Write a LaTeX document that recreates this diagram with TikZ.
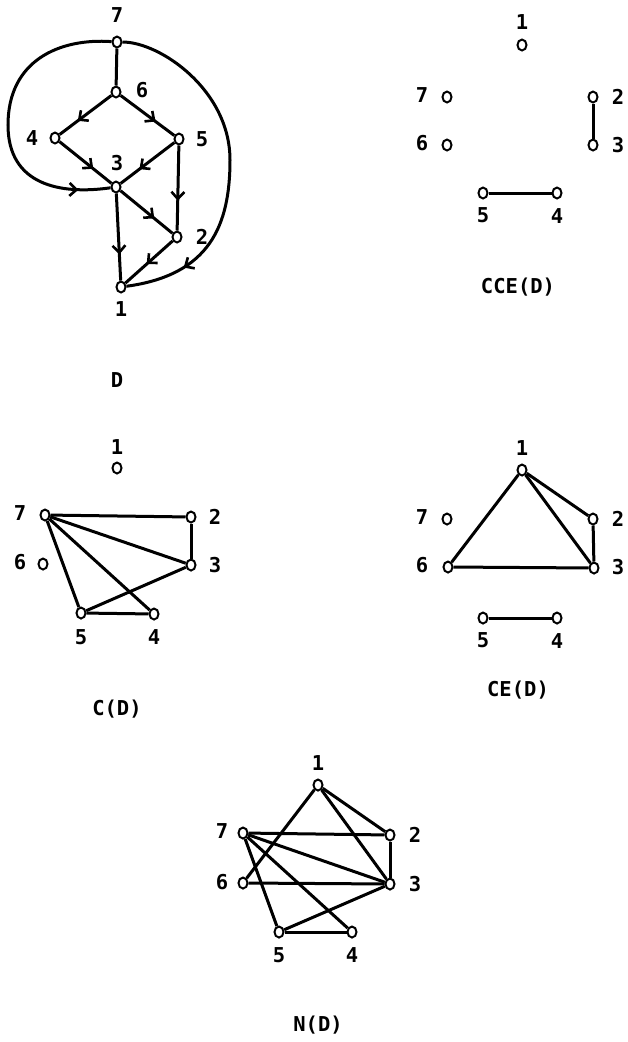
\documentclass[tikz,border=0pt]{standalone}
\usepackage{fontspec}
\newfontfamily\tw{DejaVu Sans Mono}
\usetikzlibrary{arrows.meta,decorations.markings,shapes.geometric}
\tikzset{
  vtx/.style={ellipse, draw, line width=2pt, fill=white, minimum width=9pt, minimum height=11pt, inner sep=0pt},
  lbl/.style={font=\tw\bfseries\fontsize{20.5}{20.5}\selectfont, inner sep=0pt},
  edge/.style={line width=3pt},
  arr/.style={edge, postaction={decorate}, decoration={markings, mark=at position #1 with {\arrow{Straight Barb[length=7pt,width=13pt,line width=2.6pt]}}}},
  arr/.default=0.65
}
\begin{document}
\begin{tikzpicture}[x=1pt,y=-1pt]
\useasboundingbox (0,0) rectangle (627,1042);
% ---------- D ----------
\node[vtx] (D7) at (117,42) {};
\node[vtx] (D6) at (116,92) {};
\node[vtx] (D4) at (55,138) {};
\node[vtx] (D5) at (179,139) {};
\node[vtx] (D3) at (116,187) {};
\node[vtx] (D2) at (177,237) {};
\node[vtx] (D1) at (121,287) {};
\node[lbl] (LD7) at (117,15) {7};
\node[lbl] (LD6) at (142,90) {6};
\node[lbl] (LD4) at (32,138) {4};
\node[lbl] (LD5) at (202,139) {5};
\node[lbl] (LD3) at (117,163) {3};
\node[lbl] (LD2) at (202,237) {2};
\node[lbl] (LD1) at (121,309) {1};
\node[lbl] (TD) at (117,380) {D};
\coordinate (Dl) at (8,125);
\coordinate (Dr) at (230,160);
\draw[edge] (D7) -- (D6);
\draw[arr] (D6) -- (D4);
\draw[arr] (D6) -- (D5);
\draw[arr] (D4) -- (D3);
\draw[arr] (D5) -- (D3);
\draw[arr] (D3) -- (D2);
\draw[arr] (D5) -- (D2);
\draw[arr=0.7] (D3) -- (D1);
\draw[arr=0.55] (D2) -- (D1);
\draw[arr=0.89] (D7) .. controls (60,38) and (8,60) .. (Dl) .. controls (8,185) and (60,195) .. (D3);
\draw[arr=0.83] (D7) .. controls (160,42) and (230,90) .. (Dr) .. controls (230,225) and (210,275) .. (D1);
% ---------- CCE(D) ----------
\node[vtx] (A1) at (522,45) {};
\node[vtx] (A7) at (447,97) {};
\node[vtx] (A6) at (447,145) {};
\node[vtx] (A2) at (593,97) {};
\node[vtx] (A3) at (593,145) {};
\node[vtx] (A5) at (483,193) {};
\node[vtx] (A4) at (557,193) {};
\node[lbl] (LA1) at (522,22) {1};
\node[lbl] (LA7) at (422,95) {7};
\node[lbl] (LA6) at (422,143) {6};
\node[lbl] (LA2) at (618,97) {2};
\node[lbl] (LA3) at (618,145) {3};
\node[lbl] (LA5) at (483,215) {5};
\node[lbl] (LA4) at (557,216) {4};
\node[lbl] (TA) at (518,287) {CCE(D)};
\draw[edge] (A2) -- (A3);
\draw[edge] (A5) -- (A4);
% ---------- C(D) ----------
\node[vtx] (B1) at (117,468) {};
\node[vtx] (B7) at (45,515) {};
\node[vtx] (B2) at (191,517) {};
\node[vtx] (B6) at (43,564) {};
\node[vtx] (B3) at (191,565) {};
\node[vtx] (B5) at (81,613) {};
\node[vtx] (B4) at (154,614) {};
\node[lbl] (LB1) at (117,447) {1};
\node[lbl] (LB7) at (20,513) {7};
\node[lbl] (LB2) at (215,517) {2};
\node[lbl] (LB6) at (20,562) {6};
\node[lbl] (LB3) at (215,565) {3};
\node[lbl] (LB5) at (81,637) {5};
\node[lbl] (LB4) at (154,637) {4};
\node[lbl] (TB) at (117,709) {C(D)};
\draw[edge] (B7) -- (B2);
\draw[edge] (B7) -- (B3);
\draw[edge] (B7) -- (B5);
\draw[edge] (B7) -- (B4);
\draw[edge] (B2) -- (B3);
\draw[edge] (B3) -- (B5);
\draw[edge] (B5) -- (B4);
% ---------- CE(D) ----------
\node[vtx] (E1) at (522,470) {};
\node[vtx] (E7) at (447,519) {};
\node[vtx] (E2) at (593,519) {};
\node[vtx] (E6) at (448,567) {};
\node[vtx] (E3) at (594,568) {};
\node[vtx] (E5) at (483,618) {};
\node[vtx] (E4) at (557,618) {};
\node[lbl] (LE1) at (522,448) {1};
\node[lbl] (LE7) at (422,517) {7};
\node[lbl] (LE2) at (618,519) {2};
\node[lbl] (LE6) at (422,565) {6};
\node[lbl] (LE3) at (618,567) {3};
\node[lbl] (LE5) at (483,640) {5};
\node[lbl] (LE4) at (557,641) {4};
\node[lbl] (TE) at (518,690) {CE(D)};
\draw[edge] (E1) -- (E6);
\draw[edge] (E1) -- (E3);
\draw[edge] (E1) -- (E2);
\draw[edge] (E2) -- (E3);
\draw[edge] (E6) -- (E3);
\draw[edge] (E5) -- (E4);
% ---------- N(D) ----------
\node[vtx] (N1) at (318,785) {};
\node[vtx] (N7) at (243,833) {};
\node[vtx] (N2) at (390,835) {};
\node[vtx] (N6) at (243,883) {};
\node[vtx] (N3) at (390,884) {};
\node[vtx] (N5) at (279,932) {};
\node[vtx] (N4) at (352,932) {};
\node[lbl] (LN1) at (318,763) {1};
\node[lbl] (LN7) at (222,831) {7};
\node[lbl] (LN2) at (415,835) {2};
\node[lbl] (LN6) at (222,882) {6};
\node[lbl] (LN3) at (415,884) {3};
\node[lbl] (LN5) at (279,955) {5};
\node[lbl] (LN4) at (352,955) {4};
\node[lbl] (TN) at (318,1025) {N(D)};
\draw[edge] (N1) -- (N6);
\draw[edge] (N1) -- (N3);
\draw[edge] (N1) -- (N2);
\draw[edge] (N7) -- (N2);
\draw[edge] (N7) -- (N3);
\draw[edge] (N7) -- (N5);
\draw[edge] (N7) -- (N4);
\draw[edge] (N2) -- (N3);
\draw[edge] (N6) -- (N3);
\draw[edge] (N3) -- (N5);
\draw[edge] (N5) -- (N4);
\end{tikzpicture}
\end{document}
